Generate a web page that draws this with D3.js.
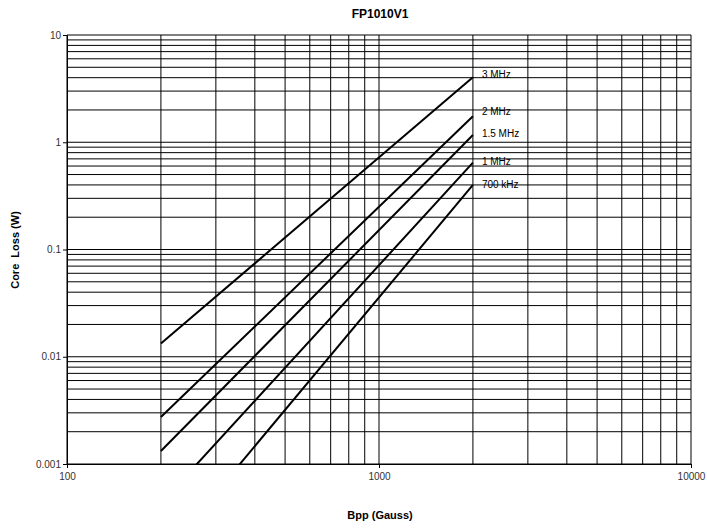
<!DOCTYPE html>
<html>
<head>
<meta charset="utf-8">
<script src="https://cdn.jsdelivr.net/npm/d3@7"></script>
<style>
  html, body { margin: 0; padding: 0; background: #fff; }
  svg { display: block; }
  text { font-family: "Liberation Sans", Arial, sans-serif; }
</style>
</head>
<body>
<svg id="chart" width="707" height="529"></svg>
<script>
// ---- Data ----
const seriesNames = ["3 MHz", "2 MHz", "1.5 MHz", "1 MHz", "700 kHz"];
const fluxPoints = [200, 2000];              // Bpp (Gauss)
const loss3MHz   = [0.0133, 4.03];
const loss2MHz   = [0.00274, 1.75];
const loss1p5MHz = [0.00132, 1.17];
const loss1MHz   = [0.00043, 0.645];
const loss700kHz = [0.000131, 0.40];
const seriesValues = [loss3MHz, loss2MHz, loss1p5MHz, loss1MHz, loss700kHz];
const labelYValues = [4.25, 1.95, 1.2, 0.66, 0.40];  // where each label sits
const xTickValues = [100, 1000, 10000];
const xTickLabels = ["100", "1000", "10000"];
const yTickValues = [10, 1, 0.1, 0.01, 0.001];
const yTickLabels = ["10", "1", "0.1", "0.01", "0.001"];

// ---- Layout ----
const W = 707, H = 529;
const m = { left: 67, right: 16, top: 35, bottom: 65 };
const pw = W - m.left - m.right, ph = H - m.top - m.bottom;

const svg = d3.select("#chart");
const x = d3.scaleLog().domain([100, 10000]).range([m.left, m.left + pw]);
const y = d3.scaleLog().domain([0.001, 10]).range([m.top + ph, m.top]);

// grid values
const xGrid = [];
for (let d = 100; d < 10000; d *= 10) for (let k = 1; k <= 9; k++) xGrid.push(d * k);
xGrid.push(10000);
const yGrid = [];
for (let d = 0.001; d < 9.99; d *= 10) for (let k = 1; k <= 9; k++) yGrid.push(+(d * k).toPrecision(3));
yGrid.push(10);

const g = svg.append("g");
g.selectAll("line.vg").data(xGrid).join("line")
  .attr("x1", d => x(d)).attr("x2", d => x(d))
  .attr("y1", m.top).attr("y2", m.top + ph)
  .attr("stroke", "#000").attr("stroke-width", 1);
g.selectAll("line.hg").data(yGrid).join("line")
  .attr("x1", m.left).attr("x2", m.left + pw)
  .attr("y1", d => y(d)).attr("y2", d => y(d))
  .attr("stroke", "#000").attr("stroke-width", 1);

// axes
const xAxis = d3.axisBottom(x).tickValues(xTickValues)
  .tickFormat((d, i) => xTickLabels[i]).tickSize(4).tickSizeOuter(0);
const yAxis = d3.axisLeft(y).tickValues(yTickValues)
  .tickFormat((d, i) => yTickLabels[i]).tickSize(4).tickSizeOuter(0);
const gx = svg.append("g").attr("transform", `translate(0,${m.top + ph})`).call(xAxis);
const gy = svg.append("g").attr("transform", `translate(${m.left},0)`).call(yAxis);
[gx, gy].forEach(a => {
  a.select(".domain").attr("stroke", "#000");
  a.selectAll(".tick line").attr("stroke", "#000");
  a.selectAll(".tick text").attr("fill", "#333").attr("font-size", 10)
    .attr("font-family", "Liberation Sans, Arial, sans-serif");
});
gx.selectAll(".tick text").attr("dy", "0.9em");
gy.selectAll(".tick text").attr("x", -6);

// clip
svg.append("clipPath").attr("id", "clip").append("rect")
  .attr("x", m.left).attr("y", m.top).attr("width", pw).attr("height", ph);

const line = d3.line().x(d => x(d[0])).y(d => y(d[1]));
svg.append("g").attr("clip-path", "url(#clip)")
  .selectAll("path").data(seriesValues).join("path")
  .attr("d", vals => line(fluxPoints.map((f, i) => [f, vals[i]])))
  .attr("fill", "none").attr("stroke", "#000").attr("stroke-width", 2);

// series labels
svg.append("g").selectAll("text").data(seriesNames).join("text")
  .attr("x", x(fluxPoints[1]) + 9)
  .attr("y", (d, i) => y(labelYValues[i]))
  .attr("dy", "0.35em")
  .attr("font-size", 10).attr("fill", "#000")
  .text(d => d);

// titles
svg.append("text").attr("x", 380).attr("y", 18).attr("text-anchor", "middle")
  .attr("font-size", 12).attr("font-weight", "bold").text("FP1010V1");
svg.append("text").attr("x", 380).attr("y", 519).attr("text-anchor", "middle")
  .attr("font-size", 11).attr("font-weight", "bold").text("Bpp (Gauss)");
svg.append("text").attr("transform", "translate(19,250) rotate(-90)")
  .attr("text-anchor", "middle")
  .attr("font-size", 11).attr("font-weight", "bold").text("Core  Loss (W)")
  .style("white-space", "pre");
</script>
</body>
</html>
